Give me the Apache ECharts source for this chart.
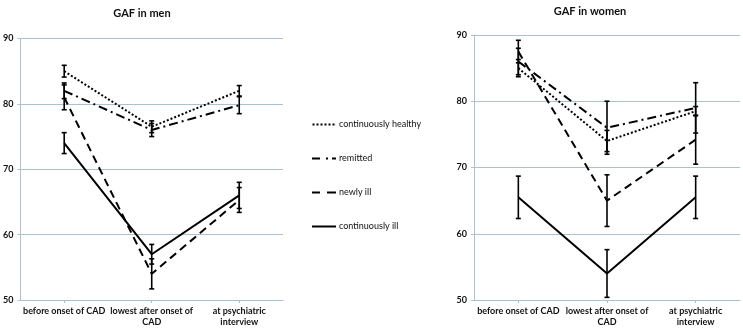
<!DOCTYPE html>
<html>
<head>
<meta charset="utf-8">
<script src="https://cdn.jsdelivr.net/npm/echarts@6/dist/echarts.min.js"></script>
<style>
  html, body { margin: 0; padding: 0; background: #fff; }
  #chart { width: 743px; height: 329px; }
</style>
</head>
<body>
<div id="chart"></div>
<script>
  // categories and tick labels
  var categories = ['before onset of CAD', 'lowest after onset of\nCAD', 'at psychiatric\ninterview']
  var yTicks = [50, 60, 70, 80, 90]
  var groups = ['continuously healthy', 'remitted', 'newly ill', 'continuously ill']

  // men: means and error half-widths
  var menHealthy = [85, 76.5, 82]
  var menHealthyErr = [0.9, 0.9, 0.8]
  var menRemitted = [82, 76, 79.8]
  var menRemittedErr = [1.2, 1, 1.3]
  var menNewlyIll = [81, 54, 65.3]
  var menNewlyIllErr = [1.9, 2.3, 1.9]
  var menContIll = [74, 57, 66]
  var menContIllErr = [1.6, 1.5, 2]

  // women
  var womenHealthy = [85, 74, 78.5]
  var womenHealthyErr = [1.3, 1.6, 0.7]
  var womenRemitted = [86, 76, 79]
  var womenRemittedErr = [2, 4, 3.8]
  var womenNewlyIll = [87.5, 65, 74.2]
  var womenNewlyIllErr = [1.7, 3.9, 3.7]
  var womenContIll = [65.5, 54, 65.5]
  var womenContIllErr = [3.2, 3.6, 3.2]

  var axisColor = '#a9c2cf'
  var font = 'Lato, "Open Sans", sans-serif'

  var dashes = {
    'continuously healthy': [2, 2],
    'remitted': [9, 4, 2, 4],
    'newly ill': [8, 5],
    'continuously ill': 'solid'
  }
  var icons = {
    'continuously healthy': 'path://M0,0h2v2h-2zM4,0h2v2h-2zM8,0h2v2h-2zM12,0h2v2h-2zM16,0h2v2h-2zM20,0h2v2h-2zM22.9,0h0.1v2h-0.1z',
    'remitted': 'path://M0,0h8v2h-8zM14,0h2v2h-2zM20,0h4v2h-4z',
    'newly ill': 'path://M0,0h8v2h-8zM15,0h9v2h-9z',
    'continuously ill': 'path://M0,0h24v2h-24z'
  }

  function lineSeries(name, data, idx) {
    return {
      name: name,
      type: 'line',
      xAxisIndex: idx,
      yAxisIndex: idx,
      data: data,
      symbol: 'none',
      silent: true,
      lineStyle: { color: '#000', width: 2, type: dashes[name] },
      itemStyle: { color: '#000' },
      z: 3
    }
  }

  function errorSeries(name, means, errs, idx) {
    var d = means.map(function(m, i) {
      return [i, m - errs[i], m + errs[i]]
    })
    return {
      name: name,
      type: 'custom',
      xAxisIndex: idx,
      yAxisIndex: idx,
      data: d,
      silent: true,
      z: 4,
      renderItem: function(params, api) {
        var lo = api.coord([api.value(0), api.value(1)])
        var hi = api.coord([api.value(0), api.value(2)])
        var w = 2.5
        var st = { stroke: '#000', lineWidth: 1.6 }
        return {
          type: 'group',
          children: [
            { type: 'line', shape: { x1: lo[0], y1: lo[1], x2: hi[0], y2: hi[1] }, style: st },
            { type: 'line', shape: { x1: lo[0] - w, y1: lo[1], x2: lo[0] + w, y2: lo[1] }, style: st },
            { type: 'line', shape: { x1: hi[0] - w, y1: hi[1], x2: hi[0] + w, y2: hi[1] }, style: st }
          ]
        }
      }
    }
  }

  function xAxis(idx) {
    return {
      type: 'category',
      gridIndex: idx,
      data: categories,
      boundaryGap: true,
      axisLine: { lineStyle: { color: axisColor, width: 1 } },
      axisTick: { show: true, alignWithLabel: true, length: 3, lineStyle: { color: axisColor } },
      axisLabel: {
        interval: 0, margin: 6, color: '#111', fontSize: 9, fontWeight: 'bold',
        fontFamily: font, lineHeight: 11
      }
    }
  }

  function yAxis(idx) {
    return {
      type: 'value',
      gridIndex: idx,
      min: yTicks[0],
      max: yTicks[yTicks.length - 1],
      interval: 10,
      axisLine: { show: true, lineStyle: { color: axisColor, width: 1 } },
      axisTick: { show: true, length: 3, lineStyle: { color: axisColor } },
      splitLine: { lineStyle: { color: axisColor, width: 1 } },
      axisLabel: { margin: 7, color: '#111', fontSize: 9, fontWeight: 'bold', fontFamily: font }
    }
  }

  var chart = echarts.init(document.getElementById('chart'), null, { renderer: 'canvas' })

  chart.setOption({
    animation: false,
    title: [
      { text: 'GAF in men', left: 137, top: 3, textAlign: 'center',
        textStyle: { fontSize: 11, fontWeight: 'bold', color: '#111', fontFamily: font } },
      { text: 'GAF in women', left: 585, top: 1, textAlign: 'center',
        textStyle: { fontSize: 11, fontWeight: 'bold', color: '#111', fontFamily: font } }
    ],
    legend: {
      orient: 'vertical',
      left: 307,
      top: 115,
      itemWidth: 24,
      itemHeight: 2,
      itemGap: 25,
      selectedMode: false,
      data: groups.map(function(g) {
        return { name: g, icon: icons[g] }
      }),
      textStyle: { fontSize: 9, color: '#111', fontFamily: font, padding: [0, 0, 0, -2] }
    },
    grid: [
      { left: 20, right: 460, top: 38.5, bottom: 29 },
      { left: 474, right: 3, top: 35, bottom: 29 }
    ],
    xAxis: [xAxis(0), xAxis(1)],
    yAxis: [yAxis(0), yAxis(1)],
    series: [
      lineSeries('continuously healthy', menHealthy, 0),
      lineSeries('remitted', menRemitted, 0),
      lineSeries('newly ill', menNewlyIll, 0),
      lineSeries('continuously ill', menContIll, 0),
      errorSeries('continuously healthy', menHealthy, menHealthyErr, 0),
      errorSeries('remitted', menRemitted, menRemittedErr, 0),
      errorSeries('newly ill', menNewlyIll, menNewlyIllErr, 0),
      errorSeries('continuously ill', menContIll, menContIllErr, 0),
      lineSeries('continuously healthy', womenHealthy, 1),
      lineSeries('remitted', womenRemitted, 1),
      lineSeries('newly ill', womenNewlyIll, 1),
      lineSeries('continuously ill', womenContIll, 1),
      errorSeries('continuously healthy', womenHealthy, womenHealthyErr, 1),
      errorSeries('remitted', womenRemitted, womenRemittedErr, 1),
      errorSeries('newly ill', womenNewlyIll, womenNewlyIllErr, 1),
      errorSeries('continuously ill', womenContIll, womenContIllErr, 1)
    ]
  })
</script>
</body>
</html>
